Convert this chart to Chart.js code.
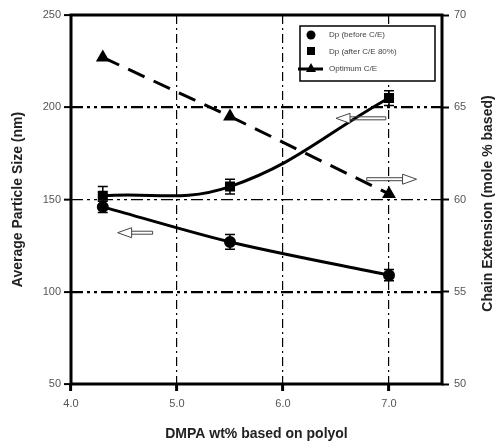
<!DOCTYPE html>
<html lang="en">
<head>
    <meta charset="UTF-8">
    <title>Particle Size vs DMPA</title>
    <script src="https://cdn.jsdelivr.net/npm/chart.js"></script>
    <style>
        body { margin: 0; background: #fff; }
    </style>
</head>
<body>
    <canvas id="myChart" width="499" height="446"></canvas>

    <script>
        // DMPA content (wt% on polyol)
        const dmpa = [4.3, 5.5, 7.0];

        // Particle size (nm), left axis
        const dpBefore = [146, 127, 109];
        const dpBeforeErr = [3, 4, 3];
        const dpAfter = [152, 157, 205];
        const dpAfterErr = [5, 4, 4];

        // Optimum chain extension (mole %), right axis
        const optimumCE = [67.7, 64.5, 60.3];

        const xTicks = [4, 5, 6, 7];

        // hollow arrows telling which axis a curve belongs to (left-axis units)
        const arrowFrom = [4.77, 6.97, 6.79];
        const arrowTo = [4.44, 6.50, 7.26];
        const arrowY = [132, 194, 161];

        const font = "'Liberation Sans', Arial, sans-serif";
        const rightTitle = 'Chain Extension (mole % based)';

        const toPoints = (xs, ys) => xs.map((x, i) => ({ x: x, y: ys[i] }));

        const errorBars = {
            id: 'errorBars',
            afterDatasetsDraw(chart) {
                const ctx = chart.ctx;
                const yScale = chart.scales.y;
                ctx.save();
                ctx.strokeStyle = '#000';
                ctx.lineWidth = 1.5;
                chart.data.datasets.forEach((ds, di) => {
                    if (!ds.err) return;
                    chart.getDatasetMeta(di).data.forEach((pt, i) => {
                        const v = ds.data[i].y;
                        const top = yScale.getPixelForValue(v + ds.err[i]);
                        const bot = yScale.getPixelForValue(v - ds.err[i]);
                        ctx.beginPath();
                        ctx.moveTo(pt.x, top); ctx.lineTo(pt.x, bot);
                        ctx.moveTo(pt.x - 5, top); ctx.lineTo(pt.x + 5, top);
                        ctx.moveTo(pt.x - 5, bot); ctx.lineTo(pt.x + 5, bot);
                        ctx.stroke();
                    });
                });
                ctx.restore();
            }
        };

        const arrows = {
            id: 'arrows',
            afterDatasetsDraw(chart) {
                const ctx = chart.ctx;
                const xs = chart.scales.x, ys = chart.scales.y;
                ctx.save();
                ctx.strokeStyle = '#444';
                ctx.fillStyle = '#fff';
                ctx.lineWidth = 1;
                arrowFrom.forEach((f, i) => {
                    const x0 = xs.getPixelForValue(f);
                    const x1 = xs.getPixelForValue(arrowTo[i]);
                    const y = ys.getPixelForValue(arrowY[i]);
                    const dir = x1 > x0 ? 1 : -1;
                    const hx = x1 - dir * 14;
                    ctx.beginPath();
                    ctx.moveTo(x0, y - 1.5); ctx.lineTo(hx, y - 1.5);
                    ctx.moveTo(x0, y + 1.5); ctx.lineTo(hx, y + 1.5);
                    ctx.moveTo(x0, y - 1.5); ctx.lineTo(x0, y + 1.5);
                    ctx.stroke();
                    ctx.beginPath();
                    ctx.moveTo(hx, y - 5);
                    ctx.lineTo(x1, y);
                    ctx.lineTo(hx, y + 5);
                    ctx.closePath();
                    ctx.fill();
                    ctx.stroke();
                });
                ctx.restore();
            }
        };

        const frame = {
            id: 'frame',
            afterDraw(chart) {
                const a = chart.chartArea;
                const ctx = chart.ctx;
                ctx.save();
                ctx.strokeStyle = '#000';
                ctx.lineWidth = 3;
                ctx.strokeRect(a.left, a.top, a.right - a.left, a.bottom - a.top);
                // right axis title reads bottom-to-top like the left one
                ctx.translate(488, (a.top + a.bottom) / 2 + 4);
                ctx.rotate(-Math.PI / 2);
                ctx.fillStyle = '#222';
                ctx.font = 'bold 14px ' + font;
                ctx.textAlign = 'center';
                ctx.textBaseline = 'middle';
                ctx.fillText(rightTitle, 0, 0);
                ctx.restore();
            }
        };

        const boxLegend = {
            id: 'boxLegend',
            afterDraw(chart) {
                const ctx = chart.ctx;
                const x = 300, y = 26, w = 135, h = 55;
                ctx.save();
                ctx.fillStyle = '#fff';
                ctx.fillRect(x, y, w, h);
                ctx.strokeStyle = '#000';
                ctx.lineWidth = 1.5;
                ctx.strokeRect(x, y, w, h);
                ctx.fillStyle = '#000';
                // circle
                ctx.beginPath();
                ctx.arc(x + 11, y + 9, 4.5, 0, Math.PI * 2);
                ctx.fill();
                // square
                ctx.fillRect(x + 7, y + 21, 8, 8);
                // line + triangle
                ctx.lineWidth = 3;
                ctx.beginPath();
                ctx.moveTo(x - 2, y + 43); ctx.lineTo(x + 23, y + 43);
                ctx.stroke();
                ctx.beginPath();
                ctx.moveTo(x + 11, y + 37); ctx.lineTo(x + 16, y + 46); ctx.lineTo(x + 6, y + 46);
                ctx.closePath();
                ctx.fill();
                ctx.fillStyle = '#444';
                ctx.font = '8px ' + font;
                ctx.textBaseline = 'middle';
                chart.data.datasets.forEach((ds, i) => {
                    ctx.fillText(ds.label, x + 29, y + 9 + i * 17);
                });
                ctx.restore();
            }
        };

        const tickFont = { family: font, size: 11 };
        const titleFont = { family: font, size: 14, weight: 'bold' };

        const config = {
            type: 'line',
            data: {
                datasets: [{
                    label: 'Dp (before C/E)',
                    data: toPoints(dmpa, dpBefore),
                    err: dpBeforeErr,
                    yAxisID: 'y',
                    borderColor: '#000',
                    backgroundColor: '#000',
                    borderWidth: 3,
                    tension: 0.3,
                    pointStyle: 'circle',
                    pointRadius: 4.5
                }, {
                    label: 'Dp (after C/E 80%)',
                    data: toPoints(dmpa, dpAfter),
                    err: dpAfterErr,
                    yAxisID: 'y',
                    borderColor: '#000',
                    backgroundColor: '#000',
                    borderWidth: 3,
                    tension: 0.4,
                    pointStyle: 'rect',
                    pointRadius: 5
                }, {
                    label: 'Optimum C/E',
                    data: toPoints(dmpa, optimumCE),
                    yAxisID: 'y2',
                    borderColor: '#000',
                    backgroundColor: '#000',
                    borderWidth: 3,
                    borderDash: [18, 10],
                    tension: 0,
                    pointStyle: 'triangle',
                    pointRadius: 5
                }]
            },
            options: {
                responsive: false,
                animation: false,
                layout: { padding: { top: 15 } },
                plugins: {
                    legend: { display: false },
                    tooltip: { enabled: false }
                },
                scales: {
                    x: {
                        type: 'linear',
                        min: 4,
                        max: 7.5,
                        afterBuildTicks: s => { s.ticks = xTicks.map(v => ({ value: v })); },
                        afterFit: s => { s.height = 62; },
                        border: { display: false, dash: [9, 4, 2, 4] },
                        grid: {
                            color: c => c.tick && c.tick.value === 4 ? 'rgba(0,0,0,0)' : '#000',
                            lineWidth: 1.2,
                            tickBorderDash: [],
                            tickColor: '#000',
                            tickWidth: 3,
                            tickLength: 7
                        },
                        ticks: {
                            font: tickFont,
                            color: '#555',
                            padding: 6,
                            callback: v => v.toFixed(1)
                        },
                        title: {
                            display: true,
                            text: 'DMPA wt% based on polyol',
                            font: titleFont,
                            color: '#222',
                            padding: { top: 4, bottom: 3 }
                        }
                    },
                    y: {
                        position: 'left',
                        min: 50,
                        max: 250,
                        afterFit: s => { s.width = 71; },
                        border: { display: false, dash: [12, 4, 3, 4, 3, 4] },
                        grid: {
                            color: c => (c.tick.value === 50 || c.tick.value === 250) ? 'rgba(0,0,0,0)' : '#000',
                            lineWidth: c => c.tick.value === 150 ? 1.3 : 2.2,
                            tickBorderDash: [],
                            tickColor: '#000',
                            tickWidth: 2,
                            tickLength: 7
                        },
                        ticks: {
                            stepSize: 50,
                            font: tickFont,
                            color: '#555',
                            padding: 3
                        },
                        title: {
                            display: true,
                            text: 'Average Particle Size (nm)',
                            font: titleFont,
                            color: '#222',
                            padding: { top: 10, bottom: 2 }
                        }
                    },
                    y2: {
                        position: 'right',
                        min: 50,
                        max: 70,
                        afterFit: s => { s.width = 57; },
                        border: { display: false },
                        grid: {
                            drawOnChartArea: false,
                            tickColor: '#000',
                            tickWidth: 2,
                            tickLength: 7
                        },
                        ticks: {
                            stepSize: 5,
                            font: tickFont,
                            color: '#555',
                            padding: 5
                        }
                    }
                }
            },
            plugins: [errorBars, arrows, frame, boxLegend]
        };

        var myChart = new Chart(document.getElementById('myChart'), config);
    </script>
</body>
</html>
